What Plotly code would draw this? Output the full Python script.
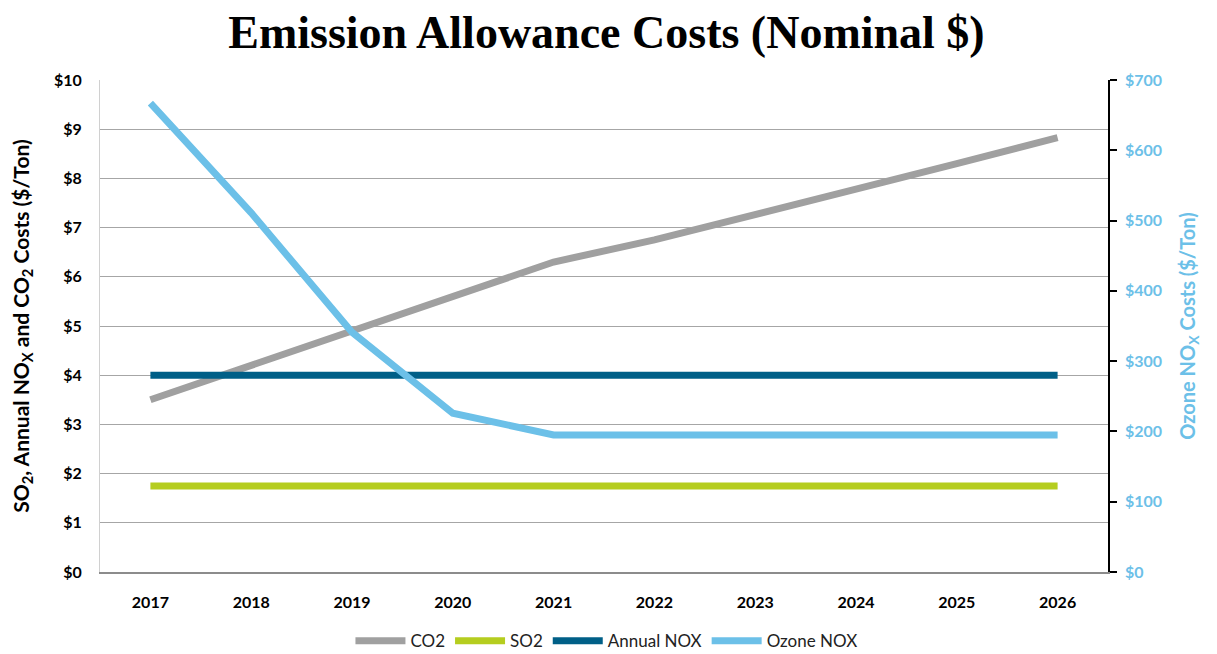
import plotly.graph_objects as go

years = ["2017", "2018", "2019", "2020", "2021", "2022", "2023", "2024", "2025", "2026"]
co2 = [3.5, 4.2, 4.9, 5.6, 6.3, 6.75, 7.25, 7.78, 8.3, 8.83]
so2 = [1.75] * 10
annual_nox = [4.0] * 10
ozone_nox = [667, 511, 341, 226, 195, 195, 195, 195, 195, 195]

left_ticks = list(range(0, 11))
right_ticks = list(range(0, 701, 100))

C_CO2 = "#A0A0A0"
C_SO2 = "#B5CD1F"
C_ANOX = "#005F87"
C_ONOX = "#6CC0E8"

fig = go.Figure()
fig.add_trace(go.Scatter(x=years, y=co2, name="CO2", mode="lines",
                         line=dict(color=C_CO2, width=7)))
fig.add_trace(go.Scatter(x=years, y=so2, name="SO2", mode="lines",
                         line=dict(color=C_SO2, width=7)))
fig.add_trace(go.Scatter(x=years, y=annual_nox, name="Annual NOX", mode="lines",
                         line=dict(color=C_ANOX, width=7)))
fig.add_trace(go.Scatter(x=years, y=ozone_nox, name="Ozone NOX", mode="lines",
                         line=dict(color=C_ONOX, width=7), yaxis="y2"))

fig.update_layout(
    width=1209, height=646,
    margin=dict(l=92, r=109, t=72, b=82),
    paper_bgcolor="white", plot_bgcolor="white",
    font=dict(family="Lato", size=16, color="black"),
    title=dict(text="<b>Emission Allowance Costs (Nominal $)</b>",
               x=0.495, xanchor="center", y=0.963, yanchor="middle",
               font=dict(family="Liberation Serif", size=46, color="black")),
    xaxis=dict(type="category", range=[-0.5, 9.5], showgrid=False, automargin=False,
               showline=True, linecolor="#8C8C8C", linewidth=1.5,
               ticks="", tickfont=dict(family="Lato", size=16, color="black", weight="bold"),
               ticklabelstandoff=15),
    yaxis=dict(range=[0, 10], tickvals=left_ticks, automargin=False,
               ticktext=[f"${v}" for v in left_ticks],
               showgrid=True, gridcolor="#A6A6A6", gridwidth=1.2,
               showline=True, linecolor="#D0D0D0", linewidth=1,
               zeroline=False, ticks="",
               tickfont=dict(family="Lato", size=16, color="black", weight="bold"),
               ticklabelstandoff=14,
               title=dict(text="<b>SO<sub>2</sub>, Annual NO<sub>X</sub> and CO<sub>2</sub> Costs ($/Ton)</b>",
                          font=dict(family="Lato", size=21, color="black"), standoff=23)),
    yaxis2=dict(range=[0, 700], tickvals=right_ticks, automargin=False,
                ticktext=[f"${v}" for v in right_ticks],
                overlaying="y", side="right", showgrid=False, zeroline=False,
                showline=True, linecolor="black", linewidth=1.5,
                ticks="outside", ticklen=7, tickcolor="black", tickwidth=1.5,
                tickfont=dict(family="Lato", size=16, color=C_ONOX, weight="bold"),
                ticklabelstandoff=5,
                title=dict(text="<b>Ozone NO<sub>X</sub> Costs ($/Ton)</b>",
                           font=dict(family="Lato", size=20, color=C_ONOX), standoff=20)),
    legend=dict(orientation="h", x=0.495, xanchor="center", xref="container",
                y=0.02, yanchor="middle", yref="container",
                font=dict(family="Lato", size=17, color="#222"),
                itemwidth=50, tracegroupgap=0),
    showlegend=True,
)

fig.write_html("out.html")
